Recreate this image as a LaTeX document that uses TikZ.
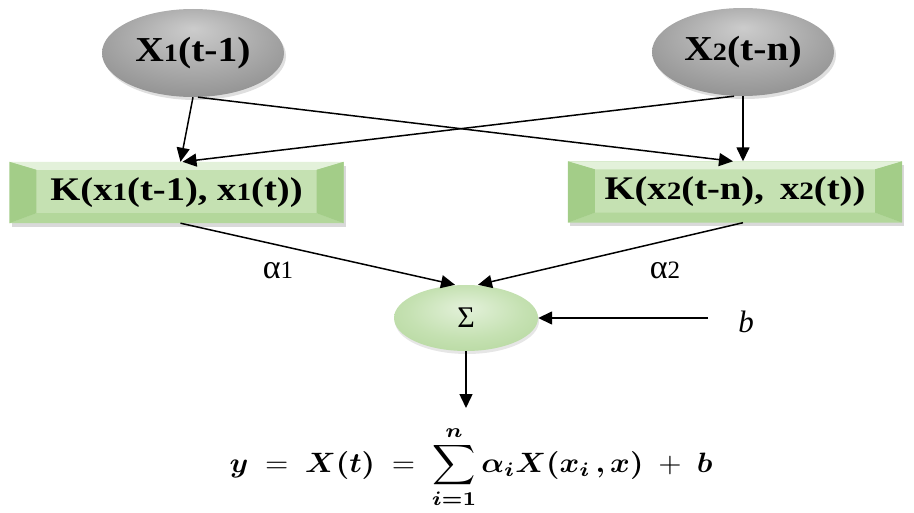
\documentclass[tikz,border=0pt]{standalone}
\usepackage{fontspec}
\setmainfont{Liberation Serif}
\usepackage{amsmath,bm,graphicx}
\usetikzlibrary{arrows.meta,shapes.geometric,shadows,calc}
\definecolor{gbase}{HTML}{C5E1B2}
\definecolor{gtop}{HTML}{E3F1DA}
\definecolor{gside}{HTML}{A3CD88}
\definecolor{gbot}{HTML}{B3D79B}
\pgfdeclareradialshading{grayball}{\pgfpoint{0bp}{14bp}}{color(0bp)=(black!20); color(18bp)=(black!33); color(50bp)=(black!56)}
\pgfdeclareradialshading{greenball}{\pgfpoint{0bp}{8bp}}{color(0bp)=(gtop); color(20bp)=(gbase); color(50bp)=(gside)}
\newcommand\sdig[1]{{\fontsize{25}{25}\selectfont #1}}
\tikzset{
  inp/.style={ellipse, minimum width=182pt, minimum height=88pt, shading=grayball, inner sep=0pt,
    font=\fontsize{35}{40}\selectfont\bfseries, drop shadow={opacity=0.25, shadow xshift=2pt, shadow yshift=-3pt}},
  kbox/.style={rectangle, minimum width=334pt, minimum height=61pt, fill=gbase, inner sep=0pt,
    drop shadow={opacity=0.3, shadow xshift=2pt, shadow yshift=-4pt}},
  ktext/.style={font=\fontsize{33}{40}\selectfont\bfseries, inner sep=0pt},
  sumnode/.style={ellipse, minimum width=144pt, minimum height=66pt, shading=greenball, inner sep=0pt,
    font=\fontsize{30}{34}\selectfont, drop shadow={opacity=0.2, shadow xshift=1pt, shadow yshift=-3pt}},
  arr/.style={-{Triangle[length=14pt,width=13pt]}, line width=1.5pt, black},
  lbl/.style={font=\fontsize{34}{36}\selectfont, inner sep=0pt},
}
\begin{document}
\begin{tikzpicture}[x=1pt,y=-1pt]
\useasboundingbox (0,0) rectangle (914,513);
\node[inp] (x1) at (193,53) {\scalebox{1.13}[1]{X\sdig{1}(t-1)}};
\node[inp] (x2) at (743,52) {\scalebox{1.13}[1]{X\sdig{2}(t-n)}};
\node[kbox] (k1) at (176.5,192.5) {};
\node[kbox] (k2) at (735,192) {};
\foreach \k in {k1,k2}{
  \fill[gtop] (\k.north west) -- ($(\k.north west)+(27,8)$) -- ($(\k.north east)+(-27,8)$) -- (\k.north east) -- cycle;
  \fill[gbot] (\k.south west) -- ($(\k.south west)+(27,-10)$) -- ($(\k.south east)+(-27,-10)$) -- (\k.south east) -- cycle;
  \fill[gside] (\k.north west) -- ($(\k.north west)+(27,8)$) -- ($(\k.south west)+(27,-10)$) -- (\k.south west) -- cycle;
  \fill[gside] (\k.north east) -- ($(\k.north east)+(-27,8)$) -- ($(\k.south east)+(-27,-10)$) -- (\k.south east) -- cycle;
}
\node[ktext] (t1) at (k1) {\scalebox{1.17}[1]{K(x\sdig{1}(t-1), x\sdig{1}(t))}};
\node[ktext] (t2) at (k2) {\scalebox{1.17}[1]{K(x\sdig{2}(t-n),\, x\sdig{2}(t))}};
\node[sumnode] (s) at (466,318) {Σ};
\coordinate (bsrc) at (708,318);
\node[lbl, font=\fontsize{31}{34}\selectfont\itshape] (b) at (746,322) {b};
\node[lbl] (a1) at (278,270) {α\sdig{1}};
\node[lbl] (a2) at (665,270) {α\sdig{2}};
\coordinate (yout) at (466,408);
\node[inner sep=0pt] (y) at (471,467) {\scalebox{3.0}[2.8]{$\displaystyle \bm{y} \;=\; \bm{X(t)} \;=\; \sum_{\bm{i=1}}^{\bm{n}} \bm{\alpha_i X(x_i\,,x)} \;+\; \bm{b}$}};
\draw[arr] (x1.south) -- ($(k1.north)+(4,0)$);
\draw[arr] ($(x1.south)+(5,0)$) -- ($(k2.north)+(-2,0)$);
\draw[arr] (x2.south) -- ($(k2.north)+(8,0)$);
\draw[arr] ($(x2.south)+(-9,0)$) -- ($(k1.north)+(6,0)$);
\draw[arr] ($(k1.south)+(4,0)$) -- ($(s.north)+(-11,0)$);
\draw[arr] ($(k2.south)+(8,0)$) -- ($(s.north)+(12,0)$);
\draw[arr] (bsrc) -- (s.east);
\draw[arr] (s.south) -- (yout);
\end{tikzpicture}
\end{document}
